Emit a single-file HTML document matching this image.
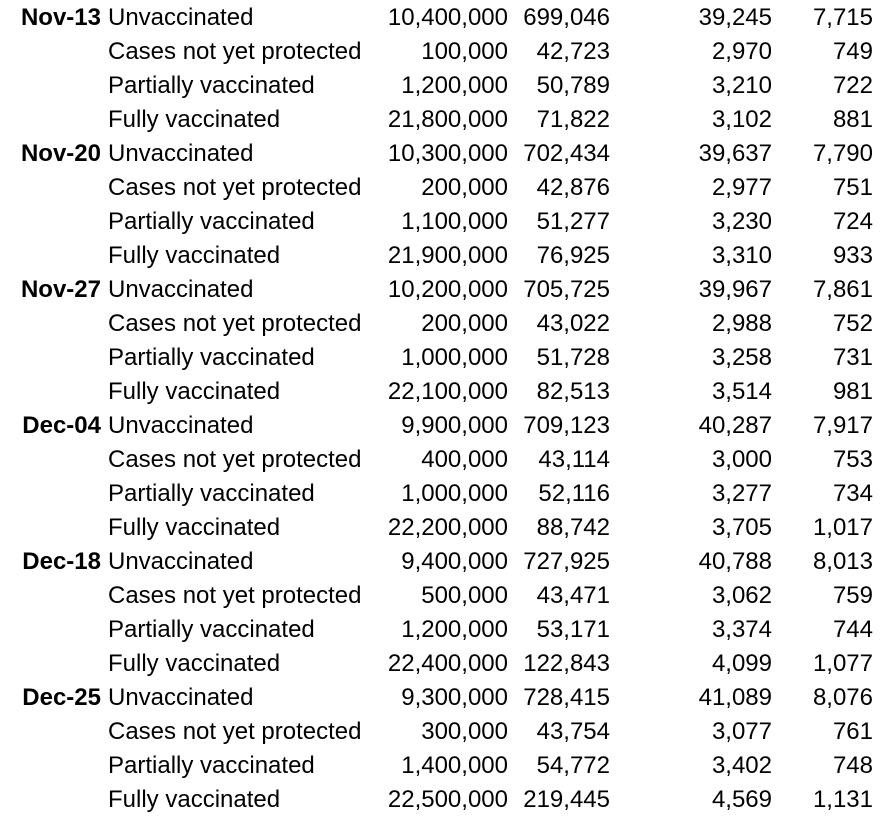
<!DOCTYPE html>
<html><head><meta charset="utf-8"><style>
body{margin:0;background:#fff;width:895px;height:814px;overflow:hidden;font-family:"Liberation Sans",Arial,sans-serif;font-size:24px;color:#000}
.r{position:absolute;left:0;width:895px;height:34px;line-height:34px}
.r span{position:absolute;top:0;white-space:nowrap}
.d{font-weight:bold;right:794px;text-align:right}
.c{left:108px}
.a{right:387px}.b{right:285px}.e{right:123px}.f{right:22px}
</style></head><body>
<div id="t"></div>
<script>
const D=[["Nov-13",[["10,400,000","699,046","39,245","7,715"],["100,000","42,723","2,970","749"],["1,200,000","50,789","3,210","722"],["21,800,000","71,822","3,102","881"]]],
["Nov-20",[["10,300,000","702,434","39,637","7,790"],["200,000","42,876","2,977","751"],["1,100,000","51,277","3,230","724"],["21,900,000","76,925","3,310","933"]]],
["Nov-27",[["10,200,000","705,725","39,967","7,861"],["200,000","43,022","2,988","752"],["1,000,000","51,728","3,258","731"],["22,100,000","82,513","3,514","981"]]],
["Dec-04",[["9,900,000","709,123","40,287","7,917"],["400,000","43,114","3,000","753"],["1,000,000","52,116","3,277","734"],["22,200,000","88,742","3,705","1,017"]]],
["Dec-18",[["9,400,000","727,925","40,788","8,013"],["500,000","43,471","3,062","759"],["1,200,000","53,171","3,374","744"],["22,400,000","122,843","4,099","1,077"]]],
["Dec-25",[["9,300,000","728,415","41,089","8,076"],["300,000","43,754","3,077","761"],["1,400,000","54,772","3,402","748"],["22,500,000","219,445","4,569","1,131"]]]];
const C=["Unvaccinated","Cases not yet protected","Partially vaccinated","Fully vaccinated"];
let h="",i=0;
D.forEach(([d,rows])=>rows.forEach((v,j)=>{
h+=`<div class="r" style="top:${i*34+1}px">${j==0?`<span class="d">${d}</span>`:""}<span class="c">${C[j]}</span><span class="a">${v[0]}</span><span class="b">${v[1]}</span><span class="e">${v[2]}</span><span class="f">${v[3]}</span></div>`;i++;}));
document.getElementById("t").innerHTML=h;
</script>
</body></html>
